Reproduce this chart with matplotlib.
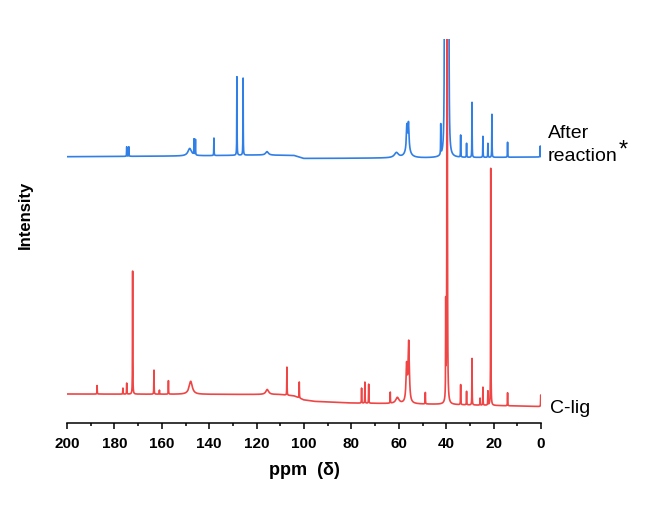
"""
13C NMR spectra: C-lig before and after reaction
"""
import matplotlib
matplotlib.use('Agg')
import matplotlib.pyplot as plt
import numpy as np

plt.rcParams['font.family'] = ['Liberation Sans', 'DejaVu Sans']

# Peaks: position (ppm), height (a.u.), half width (ppm)
blue_pos = [174.8, 173.9, 148.2, 146.4, 145.8, 138.0, 128.3, 125.7, 115.6,
            61.0, 56.6, 56.2, 55.9, 42.3, 40.6, 40.1, 39.5, 39.0, 33.9, 31.4,
            29.1, 24.5, 22.4, 20.7, 14.1, 0.3]
blue_hgt = [9.5, 9.5, 7.5, 15.5, 15.5, 17.5, 78.5, 77.0, 3.5,
            5.0, 24.0, 8.0, 26.0, 30.0, 1500, 1500, 1500, 1500, 22.0, 14.0,
            55.0, 21.0, 14.0, 43.0, 15.0, 11.0]
blue_wid = [0.06, 0.06, 0.9, 0.06, 0.06, 0.06, 0.06, 0.06, 0.7,
            1.0, 0.25, 1.2, 0.25, 0.06, 0.06, 0.06, 0.06, 0.06, 0.06, 0.06,
            0.06, 0.06, 0.06, 0.06, 0.06, 0.06]

red_pos = [187.3, 176.4, 174.8, 172.3, 163.3, 161.0, 157.2, 147.8, 115.5,
           107.2, 102.0, 75.7, 74.3, 72.7, 63.6, 60.6, 56.7, 55.8, 48.8,
           40.2, 39.6, 33.9, 31.4, 29.1, 25.7, 24.5, 22.4, 21.2, 14.1, 0.1]
red_hgt = [8.5, 6.0, 11.0, 123.0, 24.0, 4.0, 13.5, 13.0, 5.0,
           28.0, 16.0, 15.0, 21.0, 19.0, 11.0, 6.0, 36.0, 60.0, 11.5,
           93.0, 1500, 20.0, 13.5, 46.5, 7.0, 18.0, 14.0, 237.0, 13.0, 11.5]
red_wid = [0.06, 0.06, 0.06, 0.06, 0.06, 0.06, 0.06, 0.8, 0.7,
           0.06, 0.06, 0.06, 0.06, 0.06, 0.06, 0.8, 0.3, 0.3, 0.06,
           0.06, 0.06, 0.06, 0.06, 0.06, 0.06, 0.06, 0.06, 0.06, 0.06, 0.06]

# Baselines (ppm, level)
blue_base_ppm = [0, 50, 60, 100, 104, 120, 150, 200]
blue_base_val = [266.0, 265.0, 265.0, 264.5, 267.5, 268.0, 267.0, 266.3]
red_base_ppm = [0, 40, 80, 95, 100, 104, 110, 200]
red_base_val = [16.5, 18.5, 20.0, 21.5, 23.0, 27.0, 28.5, 29.0]

tick_ppm = [200, 180, 160, 140, 120, 100, 80, 60, 40, 20, 0]

BLUE = '#2f7fe6'
RED = '#f04545'


def spectrum(x, pos, hgt, wid, base_ppm, base_val):
    y = np.interp(x, base_ppm, base_val)
    for p, h, w in zip(pos, hgt, wid):
        y = y + h * w**2 / ((x - p)**2 + w**2)
    return y


ppm = np.linspace(0, 200, 20001)
blue = spectrum(ppm, blue_pos, blue_hgt, blue_wid, blue_base_ppm, blue_base_val)
red = spectrum(ppm, red_pos, red_hgt, red_wid, red_base_ppm, red_base_val)

fig = plt.figure(figsize=(6.56, 5.06), dpi=100)
ax = fig.add_axes([67 / 656, 82 / 506, 474 / 656, 384 / 506])

ax.plot(ppm, blue, color=BLUE, lw=1.2, zorder=2)
ax.plot(ppm, red, color=RED, lw=1.2, zorder=3)

ax.set_xlim(200, 0)
ax.set_ylim(0, 384)

ax.set_xticks(tick_ppm)
ax.set_xticks(np.arange(10, 200, 20), minor=True)
ax.tick_params(axis='x', which='major', direction='out', length=4.5, width=1.1,
               labelsize=11, pad=5)
ax.tick_params(axis='x', which='minor', direction='out', length=2.5, width=1.1)
for lab in ax.get_xticklabels():
    lab.set_fontweight('bold')
ax.set_yticks([])
for side in ['top', 'right', 'left']:
    ax.spines[side].set_visible(False)
ax.spines['bottom'].set_linewidth(1.1)

ax.set_xlabel('ppm  (δ)', fontsize=13, fontweight='bold', labelpad=8)
fig.text(25 / 656, 1 - 215 / 506, 'Intensity', rotation=90, ha='center',
         va='center', fontsize=12, fontweight='bold')

# Trace labels
fig.text(548 / 656, 1 - 138 / 506, 'After', fontsize=14, ha='left', va='baseline')
fig.text(548 / 656, 1 - 161 / 506, 'reaction', fontsize=14, ha='left', va='baseline')
fig.text(619 / 656, 1 - 157 / 506, '*', fontsize=17, ha='left', va='baseline')
fig.text(550 / 656, 1 - 413 / 506, 'C-lig', fontsize=14, ha='left', va='baseline')

fig.savefig('out.png', dpi=100)
plt.close(fig)
